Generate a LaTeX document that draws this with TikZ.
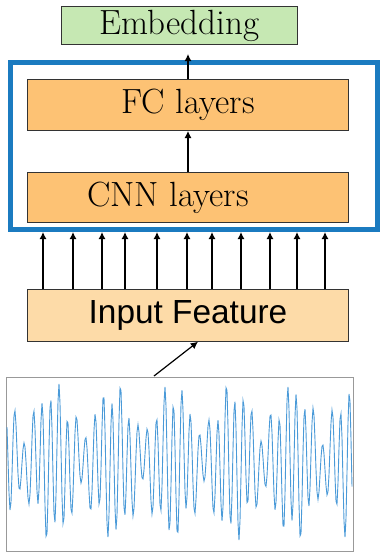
\documentclass[tikz,border=0pt]{standalone}
\usepackage{fontspec}
\usepackage{tikz}
\usetikzlibrary{arrows.meta}
\usetikzlibrary{positioning}
\newfontfamily\sansfeat{Liberation Sans}
\definecolor{embgreen}{HTML}{C6E8B3}
\definecolor{layerorange}{HTML}{FDC274}
\definecolor{inputorange}{HTML}{FDDBA8}
\definecolor{framblue}{HTML}{1B7BC0}
\definecolor{wavblue}{HTML}{4A9AD8}

\begin{document}
\begin{tikzpicture}[x=0.5pt, y=-0.5pt,
  box/.style={draw=black!80, line width=0.5pt, inner sep=0pt, anchor=north west},
  serif/.style={font=\fontsize{17.5}{20}\selectfont},
  arr/.style={-{Latex[length=3.6pt, width=3.6pt]}, line width=0.6pt}]
\useasboundingbox (0,0) rectangle (380,552);

\node[box, fill=embgreen, minimum width=118pt, minimum height=19pt] (EMB) at (61,6) {};
\node[serif] at (EMB.center) {Embedding};

\draw[framblue, line width=2.5pt] (10.5,62.5) rectangle (377,229.5);

\node[box, fill=layerorange, minimum width=160.5pt, minimum height=25.3pt] (FC) at (27,79.3) {};
\node[serif] at (FC.center) {FC layers};
\node[box, fill=layerorange, minimum width=160.5pt, minimum height=25.3pt] (CNN) at (27,171.7) {};
\node[serif] at ([xshift=-10pt]CNN.center) {CNN layers};
\node[box, fill=inputorange, minimum width=160.5pt, minimum height=25.7pt] (INP) at (27,289.3) {};
\node[font=\sansfeat\fontsize{16.7}{19}\selectfont] at (INP.center) {Input Feature};

\node[box, draw=black!40, minimum width=173.5pt, minimum height=87pt] (WAV) at (6,377.3) {};
% signal, sampled once per pixel
\draw[wavblue, line width=0.45pt] plot[domain=-173:172, samples=346]
  ({\x+180}, {462-80*(0.62*sin(41*\x)+0.25*sin(47*\x+40)+0.15*sin(17*\x+10))});

\draw[arr] (CNN.north) -- (FC.south);
\draw[arr, shorten >=4.5pt] (FC.north) -- (FC.north |- EMB.south);
\foreach \xi in {43,73,102,125,157,187,212,241,270,297,325}
  \draw[arr] (\xi,289.3) -- (\xi,232);
\coordinate (WAVTOP) at (154,376);
\draw[arr] (WAVTOP) -- (INP.south -| 198,0);
\end{tikzpicture}
\end{document}
